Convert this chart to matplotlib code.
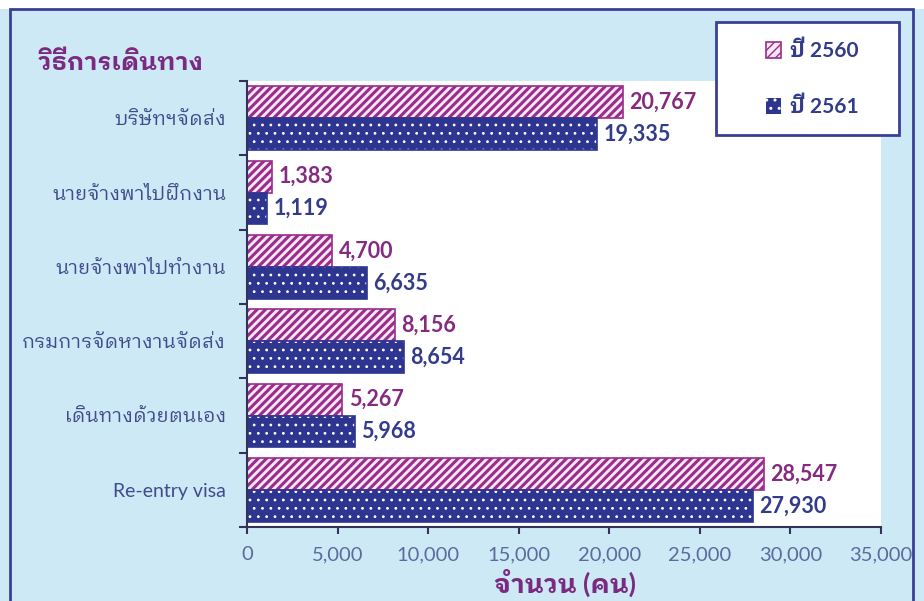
import matplotlib
matplotlib.use('Agg')
import matplotlib.pyplot as plt
import numpy as np
from matplotlib.patches import Rectangle

plt.rcParams['font.family'] = ['Lato', 'IBM Plex Sans Thai Looped', 'Noto Sans Thai Looped', 'DejaVu Sans']

# ข้อมูล
categories = ['บริษัทฯจัดส่ง', 'นายจ้างพาไปฝึกงาน', 'นายจ้างพาไปทำงาน',
              'กรมการจัดหางานจัดส่ง', 'เดินทางด้วยตนเอง', 'Re-entry visa']
y2560 = [20767, 1383, 4700, 8156, 5267, 28547]
y2561 = [19335, 1119, 6635, 8654, 5968, 27930]
series = ['ปี 2560', 'ปี 2561']
xticks = [0, 5000, 10000, 15000, 20000, 25000, 30000, 35000]

pink = '#9a2c8c'
navy = '#2d3591'
purple_txt = '#842a80'
navy_txt = '#323c8a'
bg = '#cde9f6'

fig = plt.figure(figsize=(9.24, 6.01), dpi=100, facecolor=bg)

# แถบขาวด้านบนและกรอบ
fig.patches.append(Rectangle((0, 1 - 9/601), 1, 9/601, transform=fig.transFigure,
                             facecolor='white', edgecolor='none', zorder=0))
fig.patches.append(Rectangle((10/924, -0.02), (913-10)/924, 1.02 - 9/601,
                             transform=fig.transFigure, facecolor='none',
                             edgecolor='#3a3f96', lw=2, zorder=1))

ax = fig.add_axes([247/924, 1 - 527/601, (881-247)/924, (527-81)/601])
ax.set_facecolor('white')

y = np.arange(len(categories))
h = 0.43
with plt.rc_context({'hatch.linewidth': 2.2}):
    b1 = ax.barh(y - h/2, y2560, height=h, facecolor='#f8e8f4', edgecolor=pink,
                 hatch='////', lw=1.2, label=series[0])
with plt.rc_context({'hatch.linewidth': 0.8}):
    b2 = ax.barh(y + h/2, y2561, height=h, facecolor=navy, edgecolor='white',
                 hatch='..', lw=0, label=series[1])
for p in b1:
    if hasattr(p, 'set_hatch_linewidth'):
        p.set_hatch_linewidth(2.2)
for p in b2:
    if hasattr(p, 'set_hatch_linewidth'):
        p.set_hatch_linewidth(0.8)
ax.barh(y + h/2, y2561, height=h, fill=False, edgecolor=navy, lw=1.2)

for yy, v in zip(y - h/2, y2560):
    ax.text(v + 350, yy, f'{v:,}', va='center', ha='left', fontsize=15.5,
            fontweight='bold', color=purple_txt)
for yy, v in zip(y + h/2, y2561):
    ax.text(v + 350, yy, f'{v:,}', va='center', ha='left', fontsize=15.5,
            fontweight='bold', color=navy_txt)

ax.set_xlim(0, 35000)
ax.set_ylim(len(categories) - 0.5, -0.5)
ax.set_xticks(xticks)
ax.set_xticklabels([f'{t:,}' for t in xticks])
ax.tick_params(axis='x', direction='out', length=5, width=1.5, color='#33335a',
               labelsize=14.5, labelcolor='#5c6a9e', pad=9)
ax.set_yticks(np.arange(len(categories) + 1) - 0.5)
ax.set_yticklabels([])
ax.set_yticks(y, minor=True)
ax.set_yticklabels(categories, minor=True, fontsize=14, color='#414b8c')
ax.tick_params(axis='y', which='major', direction='out', length=6, width=1.5,
               color='#33335a')
ax.tick_params(axis='y', which='minor', length=0, pad=15)

for s in ['top', 'right']:
    ax.spines[s].set_visible(False)
for s in ['left', 'bottom']:
    ax.spines[s].set_color('#33335a')
    ax.spines[s].set_linewidth(1.5)

fig.text(38/924, 1 - 62/601, 'วิธีการเดินทาง', fontsize=18, fontweight='bold',
         color='#7a2a80', va='center', ha='left')
fig.text(565/924, 1 - 583/601, 'จำนวน (คน)', fontsize=19, fontweight='bold',
         color='#7a2a80', va='center', ha='center')

# กล่องคำอธิบาย
fig.patches.append(Rectangle((716/924, 1 - 135/601), (899-716)/924, (135-22)/601,
                             transform=fig.transFigure, facecolor='white',
                             edgecolor='#3a3f96', lw=2, zorder=2))
leg = fig.legend(handles=[b1, b2], labels=series, loc='center',
                 bbox_to_anchor=(812/924, 1 - 79/601), frameon=False,
                 handlelength=0.75, handleheight=0.75, handletextpad=0.4,
                 labelspacing=1.7, prop={'size': 15, 'weight': 'bold'})
for t in leg.get_texts():
    t.set_color(navy_txt)
leg.set_zorder(3)

fig.savefig('out.png', facecolor=bg)
